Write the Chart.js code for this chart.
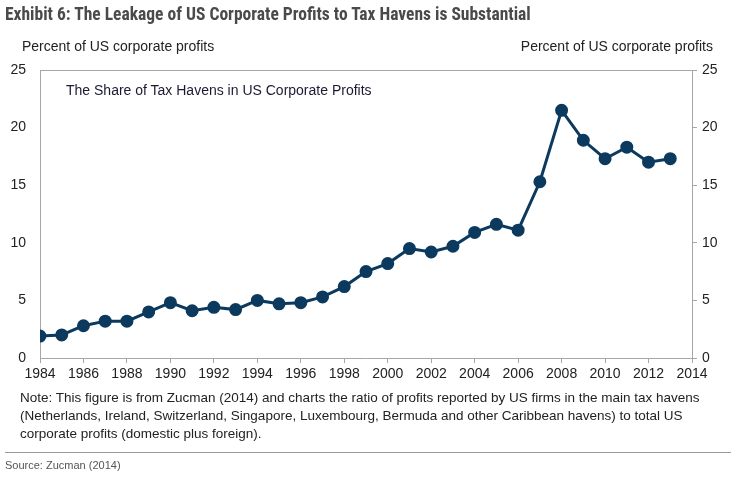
<!DOCTYPE html>
<html>
<head>
<meta charset="utf-8">
<script src="https://cdn.jsdelivr.net/npm/chart.js@4.4.1/dist/chart.umd.min.js"></script>
<style>
  html, body { margin: 0; padding: 0; background: #fff; }
  body { width: 744px; height: 478px; position: relative; overflow: hidden; font-family: "Liberation Sans", Arial, sans-serif; }
  #wrap { position: absolute; left: 0; top: 0; width: 744px; height: 478px; }
  .title { position: absolute; left: 5px; top: 4px; font-family: "Liberation Sans Narrow", "Roboto Condensed", sans-serif; font-weight: bold; font-size: 17.5px; color: #4a4a4a; white-space: nowrap; }
  .axtitle { position: absolute; top: 38px; font-size: 14px; color: #222; white-space: nowrap; }
  .inner { position: absolute; left: 66px; top: 82px; font-size: 14px; color: #1a1a33; white-space: nowrap; }
  .note { position: absolute; left: 20px; top: 389px; width: 710px; font-family: "Liberation Sans Narrow", sans-serif; font-size: 13.5px; line-height: 18px; color: #222; }
  .rule { position: absolute; left: 5px; top: 452px; width: 726px; height: 1px; background: #9a9a9a; }
  .source { position: absolute; left: 5px; top: 459px; font-family: "Liberation Sans Narrow", sans-serif; font-size: 11px; color: #555; }
</style>
</head>
<body>
<div id="wrap"><canvas id="chart" width="744" height="478"></canvas></div>
<div class="title">Exhibit 6: The Leakage of US Corporate Profits to Tax Havens is Substantial</div>
<div class="axtitle" style="left:22px;">Percent of US corporate profits</div>
<div class="axtitle" style="right:31px;">Percent of US corporate profits</div>
<div class="inner">The Share of Tax Havens in US Corporate Profits</div>
<div class="note">Note: This figure is from Zucman (2014) and charts the ratio of profits reported by US firms in the main tax havens (Netherlands, Ireland, Switzerland, Singapore, Luxembourg, Bermuda and other Caribbean havens) to total US corporate profits (domestic plus foreign).</div>
<div class="rule"></div>
<div class="source">Source: Zucman (2014)</div>
<script>
// données
const years = [1984, 1985, 1986, 1987, 1988, 1989, 1990, 1991, 1992, 1993,
               1994, 1995, 1996, 1997, 1998, 1999, 2000, 2001, 2002, 2003,
               2004, 2005, 2006, 2007, 2008, 2009, 2010, 2011, 2012, 2013];
const havenShare = [1.9, 2.0, 2.8, 3.2, 3.2, 4.0, 4.8, 4.1, 4.4, 4.2,
                    5.0, 4.7, 4.8, 5.3, 6.2, 7.5, 8.2, 9.5, 9.2, 9.7,
                    10.9, 11.6, 11.1, 15.3, 21.5, 18.9, 17.3, 18.3, 17.0, 17.3];
const yTicks = [0, 5, 10, 15, 20, 25];
const xRange = [1984, 2014];

const navy = '#0b3a5e';
const axisGray = '#a6a6a6';
const tickFont = { family: '"Liberation Sans", Arial, sans-serif', size: 14 };

// cadre autour de la zone du graphique
const boxPlugin = {
    id: 'box',
    afterDraw(chart) {
        const a = chart.chartArea;
        const ctx = chart.ctx;
        ctx.save();
        ctx.strokeStyle = axisGray;
        ctx.lineWidth = 1;
        ctx.beginPath();
        ctx.moveTo(a.left, a.top + 0.5);
        ctx.lineTo(a.right, a.top + 0.5);
        ctx.stroke();
        ctx.restore();
    }
};

new Chart(document.getElementById('chart'), {
    type: 'line',
    data: {
        datasets: [{
            data: years.map((y, i) => ({ x: y, y: havenShare[i] })),
            borderColor: navy,
            backgroundColor: navy,
            borderWidth: 3,
            pointRadius: 5,
            pointHoverRadius: 5,
            tension: 0
        }]
    },
    options: {
        responsive: false,
        animation: false,
        layout: { padding: { top: 70, bottom: 92, left: 0, right: 0 } },
        plugins: { legend: { display: false }, tooltip: { enabled: false } },
        scales: {
            x: {
                type: 'linear',
                min: xRange[0],
                max: xRange[1],
                afterBuildTicks: s => { s.ticks = []; for (let v = xRange[0]; v <= xRange[1]; v += 2) s.ticks.push({ value: v }); },
                afterFit: s => { s.height = 28; },
                ticks: { color: '#222', font: tickFont, padding: 3, maxRotation: 0, autoSkip: false, callback: v => String(v) },
                grid: { drawOnChartArea: false, drawTicks: true, tickLength: 5, color: axisGray },
                border: { color: axisGray, width: 1 }
            },
            y: {
                position: 'left',
                min: 0,
                max: 25,
                afterBuildTicks: s => { s.ticks = yTicks.map(v => ({ value: v })); },
                afterFit: s => { s.width = 40; },
                ticks: { color: '#222', font: tickFont, padding: 14 },
                grid: { drawOnChartArea: false, drawTicks: false },
                border: { color: axisGray, width: 1 }
            },
            y1: {
                position: 'right',
                min: 0,
                max: 25,
                afterBuildTicks: s => { s.ticks = yTicks.map(v => ({ value: v })); },
                afterFit: s => { s.width = 52; },
                ticks: { color: '#222', font: tickFont, padding: 5 },
                grid: { drawOnChartArea: false, drawTicks: true, tickLength: 5, color: axisGray },
                border: { color: axisGray, width: 1 }
            }
        }
    },
    plugins: [boxPlugin]
});
</script>
</body>
</html>
